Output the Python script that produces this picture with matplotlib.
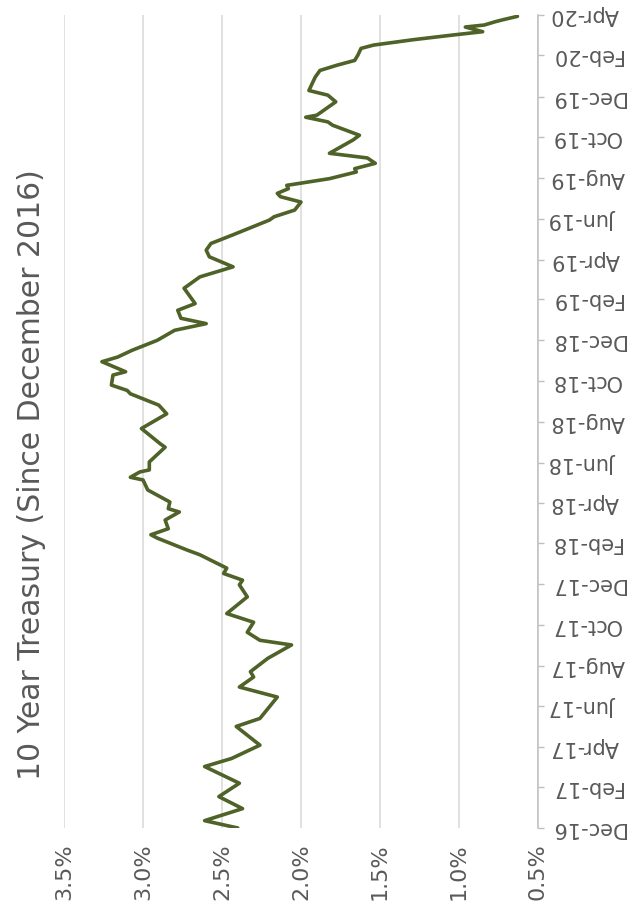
import matplotlib
matplotlib.use("Agg")
import matplotlib.pyplot as plt
import matplotlib.dates as mdates
import pandas as pd

title = "10 Year Treasury (Since December 2016)"

dates = [
    "2016-12-01", "2016-12-12", "2016-12-30", "2017-01-17", "2017-02-06", "2017-03-03",
    "2017-03-15", "2017-04-04", "2017-05-02", "2017-05-14", "2017-06-15", "2017-06-30",
    "2017-07-15", "2017-07-23", "2017-08-12", "2017-09-01", "2017-09-08", "2017-09-20",
    "2017-10-05", "2017-10-18", "2017-11-12", "2017-11-30", "2017-12-07", "2017-12-17",
    "2017-12-25", "2018-01-14", "2018-01-21", "2018-02-08", "2018-02-13", "2018-02-22",
    "2018-03-07", "2018-03-19", "2018-03-24", "2018-04-03", "2018-04-21", "2018-05-06",
    "2018-05-10", "2018-05-18", "2018-05-21", "2018-06-02", "2018-06-24", "2018-06-29",
    "2018-07-22", "2018-08-13", "2018-08-26", "2018-09-12", "2018-09-17", "2018-09-25",
    "2018-10-10", "2018-10-15", "2018-10-30", "2018-11-06", "2018-11-16", "2018-12-01",
    "2018-12-16", "2018-12-26", "2019-01-03", "2019-01-15", "2019-01-25", "2019-02-17",
    "2019-03-06", "2019-03-21", "2019-04-05", "2019-04-15", "2019-04-25", "2019-05-08",
    "2019-05-30", "2019-06-04", "2019-06-14", "2019-06-26", "2019-07-04", "2019-07-09",
    "2019-07-16", "2019-07-21", "2019-07-31", "2019-08-10", "2019-08-15", "2019-08-23",
    "2019-08-31", "2019-09-07", "2019-09-27", "2019-10-04", "2019-10-19", "2019-10-24",
    "2019-10-31", "2019-11-03", "2019-11-23", "2019-12-03", "2019-12-10", "2019-12-30",
    "2020-01-09", "2020-01-17", "2020-01-24", "2020-02-01", "2020-02-11", "2020-02-16",
    "2020-02-24", "2020-03-02", "2020-03-07", "2020-03-14", "2020-03-17", "2020-03-22",
    "2020-03-25", "2020-03-30",
]

yields = [
    2.40, 2.61, 2.37, 2.52, 2.39, 2.61,
    2.44, 2.26, 2.41, 2.26, 2.15, 2.39,
    2.30, 2.32, 2.21, 2.06, 2.26, 2.34,
    2.30, 2.47, 2.34, 2.39, 2.37, 2.49,
    2.47, 2.64, 2.72, 2.91, 2.95, 2.84,
    2.86, 2.77, 2.84, 2.83, 2.97, 3.00,
    3.08, 3.02, 2.96, 2.96, 2.86, 2.89,
    3.01, 2.85, 2.90, 3.08, 3.10, 3.20,
    3.19, 3.11, 3.26, 3.16, 3.07, 2.91,
    2.80, 2.60, 2.76, 2.78, 2.67, 2.74,
    2.64, 2.43, 2.58, 2.60, 2.57, 2.43,
    2.20, 2.17, 2.04, 2.00, 2.13, 2.15,
    2.08, 2.09, 1.82, 1.65, 1.66, 1.53,
    1.58, 1.82, 1.67, 1.63, 1.80, 1.83,
    1.97, 1.90, 1.78, 1.83, 1.95, 1.91,
    1.88, 1.77, 1.66, 1.64, 1.62, 1.54,
    1.29, 1.04, 0.85, 0.96, 0.84, 0.77,
    0.72, 0.63,
]

value_ticks = [3.5, 3.0, 2.5, 2.0, 1.5, 1.0, 0.5]
value_labels = ["3.5%", "3.0%", "2.5%", "2.0%", "1.5%", "1.0%", "0.5%"]
date_start = "2016-12-01"
date_end = "2020-04-01"

W, H = 632, 922
fig = plt.figure(figsize=(W / 100, H / 100), dpi=100)
fig.patch.set_facecolor("white")
ax = fig.add_axes([64 / W, (H - 828) / H, (538 - 64) / W, (828 - 15) / H])

ax.plot(yields, pd.to_datetime(dates), color="#4F6228", lw=2.6,
        solid_joinstyle="round", solid_capstyle="round", zorder=3)

ax.set_xlim(3.5, 0.5)
ax.set_ylim(pd.Timestamp(date_start), pd.Timestamp(date_end))

ax.set_xticks(value_ticks)
ax.set_xticklabels(value_labels, rotation=90)
ax.tick_params(axis="x", length=0, pad=11, labelsize=16, labelcolor="#595959")
ax.grid(axis="x", color="#d9d9d9", lw=1.1)
ax.set_axisbelow(True)

for s in ["top", "bottom", "left"]:
    ax.spines[s].set_visible(False)
ax.spines["right"].set_color("#bfbfbf")
ax.spines["right"].set_linewidth(1.1)

ax.yaxis.tick_right()
ax.yaxis.set_major_locator(mdates.MonthLocator(bymonth=[2, 4, 6, 8, 10, 12], bymonthday=1))
ax.yaxis.set_major_formatter(mdates.DateFormatter("%b-%y"))
ax.tick_params(axis="y", length=4, width=1, color="#bfbfbf", pad=5,
               labelsize=15, labelcolor="#595959")
for lab in ax.get_yticklabels():
    lab.set_rotation(180)
    lab.set_ha("left")
    lab.set_va("center")

fig.text(32 / W, 1 - 475 / H, title, rotation=90, ha="center", va="center",
         fontsize=21.5, color="#595959")

fig.savefig("out.png", dpi=100, facecolor="white")
